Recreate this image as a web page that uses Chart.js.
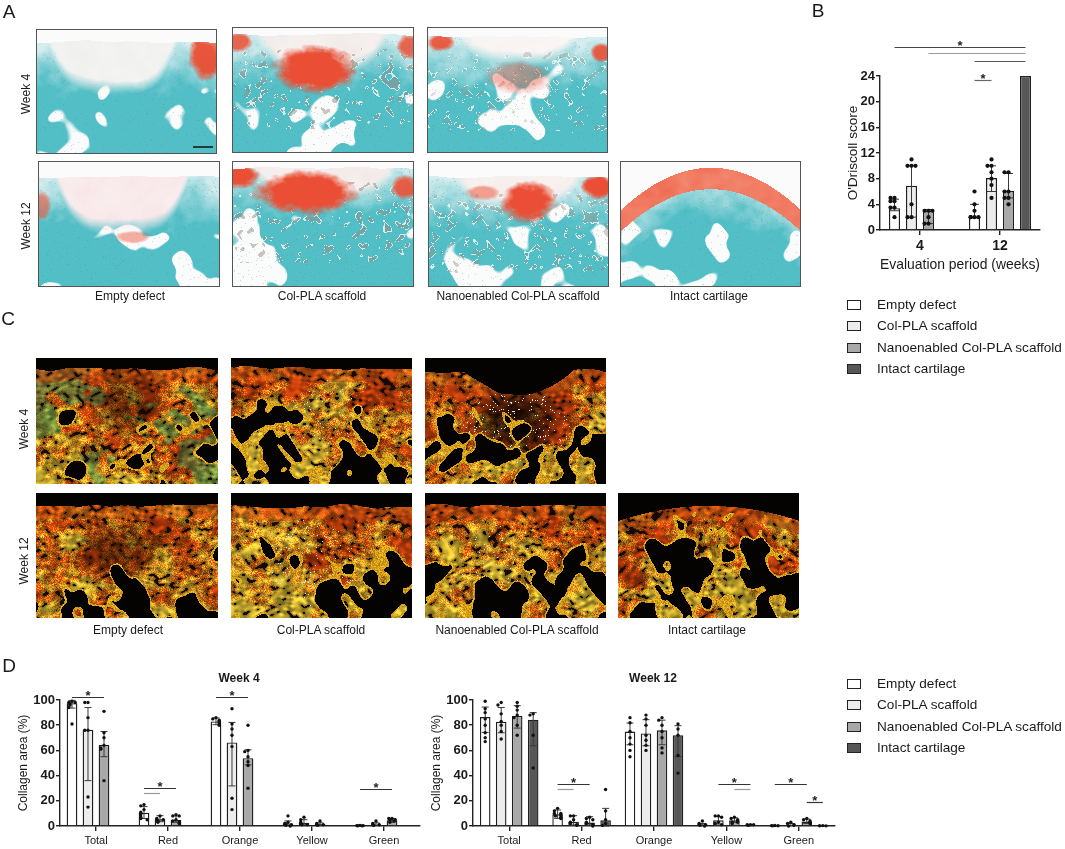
<!DOCTYPE html>
<html>
<head>
<meta charset="utf-8">
<script src="https://cdn.jsdelivr.net/npm/chart.js@4.4.1/dist/chart.umd.min.js"></script>
<style>
  body { margin: 0; background: #fff; font-family: 'Liberation Sans', Arial, sans-serif; color: #1a1a1a; }
  #fig { position: relative; width: 1065px; height: 849px; overflow: hidden; }
  .t { position: absolute; white-space: nowrap; transform: translate(-50%, -50%); line-height: 1; }
  .rot { transform: translate(-50%, -50%) rotate(-90deg); }
  .box { position: absolute; width: 12px; height: 8px; border: 1px solid #222; }
  canvas { position: absolute; }
</style>
</head>
<body>
<div id="fig">
  <canvas id="bg" width="1065" height="849" style="left:0;top:0"></canvas>
  <canvas id="chartB" width="235" height="260" style="left:830px;top:20px"></canvas>
  <canvas id="chartW4" width="440" height="189" style="left:0;top:660px"></canvas>
  <canvas id="chartW12" width="437" height="189" style="left:413px;top:660px"></canvas>
</div>
<script>
// ---- data ----
const groups = ['Empty defect', 'Col-PLA scaffold', 'Nanoenabled Col-PLA scaffold', 'Intact cartilage'];
const fills = ['#ffffff', '#ececec', '#a9a9a9', '#575757'];

// B: O'Driscoll score (bar = median, whiskers = spread)
const weeks = ['4', '12'];
const scoreMid = [[3.4, 2.0], [6.9, 8.1], [3.0, 6.1], [null, 24]];
const scoreLo = [[3.0, 2.0], [2.0, 6.0], [1.0, 5.0], [null, 24]];
const scoreHi = [[4.8, 4.0], [10.0, 10.0], [3.2, 8.8], [null, 24]];
const scoreDots = [
  [[5, 5, 4.5, 4.5, 3.5, 3.5, 2], [6, 4, 3, 2, 2, 2, 2]],
  [[11, 10, 10, 10, 4, 2, 2], [11, 10, 10, 9, 8, 7, 5]],
  [[3, 3, 3, 2, 1, 1], [9, 9, 6, 6, 5, 5, 4]],
  [[], []]
];
// [group, week, group, week, level, colour, star]
const scoreSig = [
  [0, 0, 3, 1, 28.5, '#444', 1],
  [2, 0, 3, 1, 27.6, '#9a9a9a', 0],
  [0, 1, 3, 1, 26.3, '#555', 0],
  [0, 1, 1, 1, 23.4, '#666', 1]
];

// D: collagen area (%)
const colours = ['Total', 'Red', 'Orange', 'Yellow', 'Green'];
const w4Mid = [[97.5, 10.5, 83, 2, 0.3], [76.4, 5.3, 66.3, 2.5, 1.2], [64.5, 4.8, 53.8, 1.5, 4.5], [null, null, null, null, null]];
const w4Lo = [[93.6, 6, 80.4, 0.5, 0], [36, 3.4, 31.8, 1, 0.5], [55, 3, 48.5, 0.8, 3], [null, null, null, null, null]];
const w4Hi = [[99.7, 15.4, 85.7, 4, 0.5], [94, 8.2, 82.2, 5, 2.5], [75, 8, 60.5, 2.5, 6], [null, null, null, null, null]];
const w4Dots = [
  [[99, 98, 98, 97, 96, 94, 81], [17, 16, 13, 11, 9, 7, 6, 5], [86, 85, 84, 83, 82, 81, 80], [8, 3, 2, 1, 1, 0.5, 0], [0.5, 0.3, 0.3, 0.2, 0.1]],
  [[98, 98, 86, 76, 76, 23, 15], [8, 6, 5, 5, 4, 3], [93, 81, 77, 72, 63, 22, 13], [7, 5, 3, 2, 1, 1], [4, 2, 1, 1, 0.5]],
  [[91, 74, 70, 64, 62, 61, 36], [9, 8, 8, 5, 4, 3, 2], [80, 60, 59, 55, 51, 48, 30], [4, 2, 1, 1, 0.5], [6, 6, 5, 5, 4, 3]],
  [[], [], [], [], []]
];
const w4Sig = [
  [0, 0, 2, 0, 102.4, '#333', 1],
  [0, 1, 2, 1, 30, '#333', 1],
  [0, 1, 1, 1, 26, '#9a9a9a', 0],
  [0, 2, 2, 2, 102.4, '#333', 1],
  [0, 4, 2, 4, 29.6, '#333', 1]
];

const w12Mid = [[86.5, 9.3, 75, 1.2, 0.2], [82.8, 3.4, 73.5, 4.5, 1], [87.5, 2.7, 75.9, 4.5, 3.5], [84.4, 4.5, 72, 0.8, 0.2]];
const w12Lo = [[74.3, 6.1, 64.5, 0.5, 0], [74, 0.8, 63.7, 1.5, 0.3], [77.7, 0.8, 64.5, 3, 2], [63.7, 0, 55, 0.5, 0]];
const w12Hi = [[94.4, 12.7, 81.7, 2, 0.4], [94, 8.2, 84.4, 7.5, 2], [95.5, 7.4, 84, 6.5, 5.5], [90, 14, 79.6, 1.2, 0.4]];
const w12Dots = [
  [[99, 93, 90, 85, 80, 74, 70, 67], [14, 12, 10, 10, 9, 8, 7, 6], [86, 82, 75, 70, 65, 60, 55], [4, 2, 1, 1, 0.5, 0], [0.4, 0.3, 0.2, 0.1]],
  [[98, 96, 89, 83, 80, 75, 69], [8, 8, 5, 3, 2, 1, 0.5], [88, 85, 80, 72, 68, 64, 60], [8, 8, 7, 3, 2, 1], [3, 2, 1, 0.5, 0]],
  [[98, 95, 92, 88, 86, 80, 72], [7, 6, 5, 3, 2, 1, 0], [86, 84, 80, 75, 70, 62, 58], [7, 6, 5, 4, 3, 3, 2], [6, 5, 4, 3, 2]],
  [[89, 88, 72, 46], [29, 12, 5, 2, 0.5], [81, 77, 72, 56, 42], [1, 1, 1, 0.5], [0.3, 0.2, 0.1]]
];
const w12Sig = [
  [0, 1, 2, 1, 33.3, '#333', 1],
  [0, 1, 1, 1, 29.4, '#9a9a9a', 0],
  [1, 3, 3, 3, 33.3, '#333', 1],
  [2, 3, 3, 3, 29.4, '#9a9a9a', 0],
  [0, 4, 2, 4, 33.3, '#333', 1],
  [2, 4, 3, 4, 19, '#333', 1]
];

// ---- micrograph stand-ins (decorative only) ----
function hash(x, y, s) { const h = Math.sin(x * 127.1 + y * 311.7 + s * 74.7) * 43758.5453; return h - Math.floor(h); }
function vnoise(x, y, s) {
  const ix = Math.floor(x), iy = Math.floor(y), fx = x - ix, fy = y - iy;
  const ux = fx * fx * (3 - 2 * fx), uy = fy * fy * (3 - 2 * fy);
  const a = hash(ix, iy, s), b = hash(ix + 1, iy, s), c = hash(ix, iy + 1, s), d = hash(ix + 1, iy + 1, s);
  return a + (b - a) * ux + (c - a) * uy + (a - b - c + d) * ux * uy;
}
// rotated domain so blobs are not axis aligned
const rn = (x, y, s) => vnoise(x * 0.8 - y * 0.6 + 13.1, x * 0.6 + y * 0.8 + 7.3, s);
function fbm(x, y, s) { return 0.5 * rn(x, y, s) + 0.3 * rn(x * 2.1, y * 2.1, s + 1) + 0.2 * rn(x * 4.3, y * 4.3, s + 2); }
const clamp = (v, a, b) => Math.max(a, Math.min(b, v));
const mix = (a, b, t) => [a[0] + (b[0] - a[0]) * t, a[1] + (b[1] - a[1]) * t, a[2] + (b[2] - a[2]) * t];

function shadeA(s, u, v, i, j) {
  let top = s.surf + 0.035 * (rn(u * 7, 3.3, s.seed) - 0.5);
  if (s.arc) top = 0.05 + 0.34 * ((u - 0.5) * 2) ** 2;
  if (v < top) return [252, 251, 251];
  const d = v - top;
  const t = fbm(u * 9, v * 7, s.seed);
  let col = mix([214, 237, 239], [82, 190, 198], clamp(d * 2.6 + (t - 0.5) * 0.9, 0, 1));
  // marrow spaces fade in with depth (no hard edge)
  const h = 0.65 * rn(u * 6, v * 4, s.seed + 5) + 0.35 * rn(u * 13, v * 9, s.seed + 6);
  const edge = h - 0.6 - clamp((s.holes - v) * 2.5, 0, 1) * 0.45;
  if (edge > 0) col = mix(col, [250, 252, 252], clamp(edge * 30, 0, 1));
  if (hash(i, j, s.seed + 3) < 0.025) col = mix(col, [110, 130, 130], 0.3);
  if (s.defect) {
    const q = (u - s.defect[0]) / s.defect[1];
    if (Math.abs(q) < 1) {
      const lim = s.defect[2] * (1 - q ** 4) + 0.06 * (t - 0.5);
      const k = clamp((lim - d) * 9, 0, 1);
      col = mix(col, mix(s.defCol, [255, 255, 255], 0.4 * t), k);
    }
  }
  if (s.fibers && d > 0.12 && d < 0.75) {
    const f = rn(u * 38, v * 26, s.seed + 4);
    if (f > 0.8) col = mix(col, [150, 140, 130], s.fibers); else if (f > 0.74) col = mix(col, [246, 246, 244], 0.8);
  }
  if (s.arc && d < 0.17) col = mix([237, 104, 78], [244, 142, 118], t);
  (s.reds || []).forEach(r => {
    const e = ((u - r[0]) / r[2]) ** 2 + ((v - r[1]) / r[3]) ** 2;
    const n = fbm(u * 16, v * 16, s.seed + 9);
    const k = clamp((1.3 - e - n * 0.6) * 1.6, 0, 1) * r[4];
    if (k > 0) col = mix(col, [234, 78, 52], k);
  });
  return col;
}

function shadeC(s, u, v, i, j) {
  let top = s.surf + 0.04 * (rn(u * 9, 7.7, s.seed) - 0.5);
  if (s.dip) { const q = (u - s.dip[0]) / s.dip[1]; if (Math.abs(q) < 1) top += s.dip[2] * (1 - q * q); }
  if (s.arc) top = 0.1 + 0.12 * ((u - 0.5) * 2) ** 2;
  if (v < top) return [5, 3, 2];
  const d = v - top;
  const h = 0.6 * rn(u * 8, v * 5, s.seed + 5) + 0.4 * rn(u * 17, v * 11, s.seed + 6);
  const ht = s.holeT + clamp((s.holes - v) * 2.5, 0, 1) * 0.45;
  if (h > ht) return [4, 3, 2];
  if (h > ht - 0.05) return mix([245, 200, 40], [180, 120, 10], hash(i, j, s.seed));
  const warp = rn(u * 5, v * 5, s.seed + 7) * 3;
  const fib = rn(u * 42, v * 36 + warp, s.seed);
  if (fib < 0.16) return [22, 11, 4];
  const hn = fbm(u * 7, v * 6, s.seed + 2) + (hash(i, j, s.seed + 1) - 0.5) * 0.3 + (d - 0.3) * 0.25;
  let col = hn < 0.45 ? [214, 68, 12] : hn < 0.6 ? [238, 136, 22] : [244, 208, 58];
  if (s.green) { const g = fbm(u * 4, v * 4, s.seed + 8); if (g * s.green > 0.24) col = mix(col, [80, 160, 85], 0.6); }
  if (d < 0.1) col = mix(col, [230, 96, 20], 0.6);
  const b = 0.35 + 0.8 * fib;
  col = [col[0] * b, col[1] * b, col[2] * b];
  if (s.dark) {
    const e = ((u - s.dark[0]) / s.dark[2]) ** 2 + ((v - s.dark[1]) / s.dark[3]) ** 2;
    if (e < 1) { const k = s.dark[4] + (1 - s.dark[4]) * e; col = col.map(c => c * k); }
  }
  if (s.sp) {
    const e = ((u - s.sp[0]) / s.sp[2]) ** 2 + ((v - s.sp[1]) / s.sp[3]) ** 2;
    if (e < 1 && hash(i, j, s.seed + 11) < s.sp[4]) col = [205, 232, 250];
  }
  return col;
}

const histo = [
  { x: 36, y: 29, w: 181, h: 125, seed: 1, surf: 0.1, holes: 0.5, defect: [0.42, 0.36, 0.42], defCol: [238, 238, 236], reds: [[0.94, 0.22, 0.1, 0.2, 0.95]] },
  { x: 232, y: 27, w: 182, h: 126, seed: 2, surf: 0.06, holes: 0.55, defect: [0.5, 0.36, 0.32], defCol: [240, 232, 230], fibers: 0.5, reds: [[0.45, 0.33, 0.24, 0.2, 1], [0.03, 0.12, 0.08, 0.08, 0.85], [0.97, 0.15, 0.07, 0.1, 0.85]] },
  { x: 427, y: 27, w: 181, h: 126, seed: 3, surf: 0.08, holes: 0.55, defect: [0.5, 0.33, 0.22], defCol: [246, 242, 240], fibers: 0.3, reds: [[0.07, 0.12, 0.08, 0.07, 0.9], [0.96, 0.2, 0.06, 0.08, 0.9], [0.5, 0.4, 0.18, 0.14, 0.4]] },
  { x: 38, y: 161, w: 182, h: 126, seed: 4, surf: 0.12, holes: 0.6, defect: [0.46, 0.37, 0.45], defCol: [247, 228, 230], reds: [[0.02, 0.35, 0.05, 0.12, 0.6], [0.52, 0.6, 0.1, 0.05, 0.45]] },
  { x: 232, y: 161, w: 182, h: 126, seed: 5, surf: 0.05, holes: 0.55, defect: [0.5, 0.4, 0.28], defCol: [242, 232, 230], fibers: 0.5, reds: [[0.4, 0.25, 0.3, 0.18, 1], [0.05, 0.12, 0.1, 0.1, 1], [0.95, 0.2, 0.08, 0.1, 0.9]] },
  { x: 428, y: 161, w: 181, h: 126, seed: 6, surf: 0.12, holes: 0.55, defect: [0.5, 0.35, 0.28], defCol: [244, 236, 234], fibers: 0.4, reds: [[0.55, 0.32, 0.16, 0.18, 1], [0.93, 0.2, 0.09, 0.1, 1], [0.3, 0.25, 0.1, 0.06, 0.5]] },
  { x: 620, y: 161, w: 181, h: 126, seed: 7, arc: true, holes: 0.55 }
];
const polar = [
  { x: 36, y: 358, w: 182, h: 126, seed: 11, surf: 0.08, holes: 0.55, holeT: 0.6, green: 0.45, dark: [0.5, 0.35, 0.22, 0.3, 0.6] },
  { x: 231, y: 358, w: 181, h: 126, seed: 12, surf: 0.07, holes: 0.5, holeT: 0.58, green: 0.15, sp: [0.5, 0.45, 0.25, 0.3, 0.012] },
  { x: 425, y: 358, w: 181, h: 126, seed: 13, surf: 0.1, dip: [0.52, 0.3, 0.2], holes: 0.6, holeT: 0.6, dark: [0.5, 0.5, 0.28, 0.32, 0.25], sp: [0.5, 0.55, 0.3, 0.3, 0.035] },
  { x: 36, y: 493, w: 182, h: 125, seed: 14, surf: 0.1, holes: 0.65, holeT: 0.6, green: 0.2, dark: [0.45, 0.45, 0.3, 0.28, 0.6] },
  { x: 231, y: 493, w: 181, h: 125, seed: 15, surf: 0.1, holes: 0.62, holeT: 0.58, sp: [0.45, 0.55, 0.25, 0.35, 0.02] },
  { x: 425, y: 493, w: 181, h: 125, seed: 16, surf: 0.1, holes: 0.6, holeT: 0.58, green: 0.15, sp: [0.45, 0.55, 0.3, 0.3, 0.012] },
  { x: 618, y: 493, w: 181, h: 125, seed: 17, arc: true, holes: 0.42, holeT: 0.55 }
];

const bg = document.getElementById('bg').getContext('2d');
function paint(list, shade, border) {
  list.forEach(s => {
    const img = bg.createImageData(s.w, s.h);
    for (let j = 0; j < s.h; j++) {
      for (let i = 0; i < s.w; i++) {
        const c = shade(s, i / s.w, j / s.h, i, j);
        const k = (j * s.w + i) * 4;
        img.data[k] = c[0]; img.data[k + 1] = c[1]; img.data[k + 2] = c[2]; img.data[k + 3] = 255;
      }
    }
    bg.putImageData(img, s.x, s.y);
    if (border) { bg.strokeStyle = border; bg.lineWidth = 1; bg.strokeRect(s.x + 0.5, s.y + 0.5, s.w - 1, s.h - 1); }
  });
}
paint(histo, shadeA, '#555');
paint(polar, shadeC, null);
// scale bar
bg.strokeStyle = '#111'; bg.lineWidth = 1.5;
bg.beginPath(); bg.moveTo(193, 147); bg.lineTo(213, 147); bg.stroke();

// ---- text ----
const fig = document.getElementById('fig');
function text(str, x, y, size, opts = {}) {
  const el = document.createElement('div');
  el.className = 't' + (opts.rot ? ' rot' : '');
  el.textContent = str;
  el.style.left = x + 'px'; el.style.top = y + 'px';
  el.style.fontSize = size + 'px';
  if (opts.bold) el.style.fontWeight = 'bold';
  fig.appendChild(el);
  return el;
}
text('A', 9, 11, 19); text('B', 818, 10, 19); text('C', 8, 318, 19); text('D', 9, 665, 19);
text('Week 4', 26, 94, 12, { rot: 1 }); text('Week 12', 26, 226, 12, { rot: 1 });
text('Week 4', 24, 429, 12, { rot: 1 }); text('Week 12', 24, 561, 12, { rot: 1 });
[130, 322, 518, 709].forEach((x, i) => text(groups[i], x, 296, 12));
[128, 321, 517, 707].forEach((x, i) => text(groups[i], x, 630, 12));
text('Week 4', 239, 678, 12, { bold: 1 });
text('Week 12', 653, 678, 12, { bold: 1 });

function legend(top) {
  groups.forEach((g, i) => {
    const y = top + i * 21.3;
    const b = document.createElement('div');
    b.className = 'box';
    b.style.left = '847px'; b.style.top = (y - 5) + 'px'; b.style.background = fills[i];
    fig.appendChild(b);
    const el = text(g, 0, y, 13.6);
    el.style.transform = 'translate(0, -50%)';
    el.style.left = '877px';
  });
}
legend(305);
legend(684);

// ---- charts ----
Chart.defaults.font.family = "'Liberation Sans', Arial, sans-serif";
Chart.defaults.color = '#1a1a1a';

function overlay(lo, hi, dots, sig, dotR, cap) {
  return {
    id: 'overlay',
    afterDatasetsDraw(chart) {
      const ctx = chart.ctx, ys = chart.scales.y;
      ctx.save();
      lo.forEach((row, g) => {
        const meta = chart.getDatasetMeta(g);
        row.forEach((v, c) => {
          if (v == null) return;
          const x = meta.data[c].x;
          const y1 = ys.getPixelForValue(v), y2 = ys.getPixelForValue(hi[g][c]);
          if (Math.abs(y1 - y2) < 0.5) return;
          ctx.strokeStyle = '#3a3a3a'; ctx.lineWidth = 1;
          ctx.beginPath();
          ctx.moveTo(x, y1); ctx.lineTo(x, y2);
          ctx.moveTo(x - cap, y1); ctx.lineTo(x + cap, y1);
          ctx.moveTo(x - cap, y2); ctx.lineTo(x + cap, y2);
          ctx.stroke();
        });
      });
      ctx.fillStyle = '#111';
      dots.forEach((row, g) => {
        const meta = chart.getDatasetMeta(g);
        row.forEach((list, c) => {
          const bar = meta.data[c], placed = [];
          const room = Math.max(1, bar.width / 2 - dotR * 0.6);
          list.forEach(p => {
            const py = ys.getPixelForValue(p);
            const k = placed.filter(q => Math.abs(q - py) < dotR * 1.5).length;
            placed.push(py);
            let off = k === 0 ? 0 : (k % 2 ? -1 : 1) * Math.ceil(k / 2) * dotR * 1.9;
            if (Math.abs(off) > room) off = Math.sign(off) * (Math.abs(off) % room);
            ctx.beginPath(); ctx.arc(bar.x + off, py, dotR, 0, Math.PI * 2); ctx.fill();
          });
        });
      });
      ctx.font = 'bold 13px "Liberation Sans", Arial, sans-serif';
      ctx.textAlign = 'center'; ctx.textBaseline = 'alphabetic';
      sig.forEach(s => {
        const xa = chart.getDatasetMeta(s[0]).data[s[1]].x;
        const xb = chart.getDatasetMeta(s[2]).data[s[3]].x;
        const y = Math.round(ys.getPixelForValue(s[4])) + 0.5;
        ctx.strokeStyle = s[5]; ctx.lineWidth = 1.2;
        ctx.beginPath(); ctx.moveTo(xa, y); ctx.lineTo(xb, y); ctx.stroke();
        if (s[6]) { ctx.fillStyle = '#222'; ctx.fillText('*', (xa + xb) / 2, y + 2.5); }
      });
      ctx.restore();
    }
  };
}

function barChart(id, labels, mid, lo, hi, dots, sig, o) {
  return new Chart(document.getElementById(id), {
    type: 'bar',
    data: {
      labels,
      datasets: groups.map((g, i) => ({
        label: g, data: mid[i], backgroundColor: fills[i], borderColor: '#1f1f1f', borderWidth: 1.4,
        categoryPercentage: o.cat, barPercentage: o.bar
      }))
    },
    options: {
      responsive: false,
      animation: false,
      layout: { padding: o.pad },
      plugins: { legend: { display: false }, tooltip: { enabled: false } },
      scales: {
        x: {
          grid: { drawOnChartArea: false, offset: false, tickLength: 5, color: '#222', lineWidth: 1.4 },
          border: { color: '#222', width: 1.4 },
          ticks: { font: o.xFont, color: '#1a1a1a', padding: o.xPad, maxRotation: 0 },
          title: o.xTitle || { display: false },
          afterFit: s => { s.height = o.xH; }
        },
        y: {
          min: 0, max: o.max,
          ticks: { stepSize: o.step, font: { size: 13, weight: 'bold' }, color: '#1a1a1a', padding: 1 },
          grid: { drawOnChartArea: false, tickLength: 4, color: '#222', lineWidth: 1.4 },
          border: { color: '#222', width: 1.4 },
          title: { display: true, text: o.yTitle, font: { size: o.yTitleSize }, color: '#1a1a1a', padding: { top: o.yTitlePad, bottom: 0 } },
          afterFit: s => { s.width = o.yW; }
        }
      }
    },
    plugins: [overlay(lo, hi, dots, sig, o.dotR, o.cap)]
  });
}

barChart('chartB', weeks, scoreMid, scoreLo, scoreHi, scoreDots, scoreSig, {
  cat: 0.85, bar: 0.65, pad: { top: 56, right: 25, left: 0, bottom: 0 },
  xFont: { size: 14, weight: 'bold' }, xPad: 3, xH: 50,
  xTitle: { display: true, text: 'Evaluation period (weeks)', font: { size: 14.5 }, color: '#1a1a1a', padding: { top: 0, bottom: 6 } },
  max: 24, step: 4, yTitle: "O'Driscoll score", yTitleSize: 13.6, yTitlePad: 15, yW: 50, dotR: 2.1, cap: 4.5
});

barChart('chartW4', colours, w4Mid, w4Lo, w4Hi, w4Dots, w4Sig, {
  cat: 0.889, bar: 0.67, pad: { top: 40, right: 20, left: 0, bottom: 0 },
  xFont: { size: 11 }, xPad: 3, xH: 23,
  max: 100, step: 20, yTitle: 'Collagen area (%)', yTitleSize: 12, yTitlePad: 16, yW: 60, dotR: 1.7, cap: 3.5
});

barChart('chartW12', colours, w12Mid, w12Lo, w12Hi, w12Dots, w12Sig, {
  cat: 0.884, bar: 0.66, pad: { top: 40, right: 15, left: 0, bottom: 0 },
  xFont: { size: 11 }, xPad: 3, xH: 23,
  max: 100, step: 20, yTitle: 'Collagen area (%)', yTitleSize: 12, yTitlePad: 16, yW: 60, dotR: 1.7, cap: 3.5
});
</script>
</body>
</html>
